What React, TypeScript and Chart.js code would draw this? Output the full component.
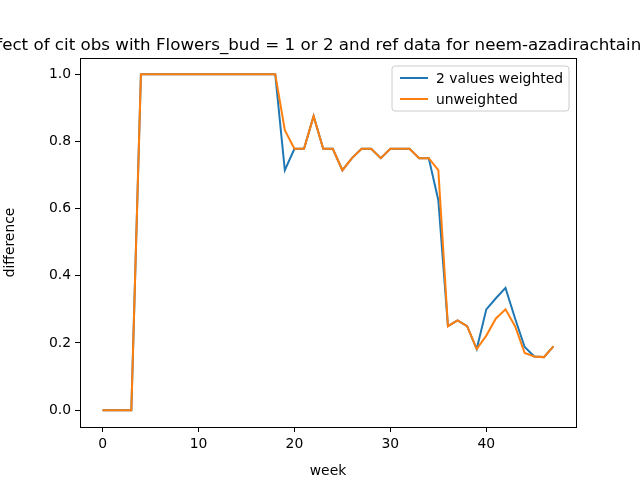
import React, { useRef, useEffect } from 'react';
import { Chart, registerables } from 'chart.js';

Chart.register(...registerables);

const weeks: number[] = Array.from({ length: 48 }, (_, i) => i);

const weighted: number[] = [
  0, 0, 0, 0, 1, 1, 1, 1, 1, 1, 1, 1, 1, 1, 1, 1, 1, 1, 1,
  0.714, 0.778, 0.778, 0.875, 0.778, 0.778, 0.714, 0.75, 0.778, 0.778, 0.75,
  0.778, 0.778, 0.778, 0.75, 0.75, 0.625, 0.25, 0.267, 0.25, 0.182,
  0.3, 0.333, 0.364, 0.273, 0.188, 0.16, 0.158, 0.19,
];

const unweighted: number[] = [
  0, 0, 0, 0, 1, 1, 1, 1, 1, 1, 1, 1, 1, 1, 1, 1, 1, 1, 1,
  0.833, 0.778, 0.778, 0.875, 0.778, 0.778, 0.714, 0.75, 0.778, 0.778, 0.75,
  0.778, 0.778, 0.778, 0.75, 0.75, 0.714, 0.25, 0.267, 0.25, 0.182,
  0.222, 0.273, 0.3, 0.25, 0.17, 0.16, 0.158, 0.19,
];

const xTicks = [0, 10, 20, 30, 40];
const yTicks = [0, 0.2, 0.4, 0.6, 0.8, 1.0];
const seriesNames = ['2 values weighted', 'unweighted'];
const colors = ['#1f77b4', '#ff7f0e'];
const title = 'Effect of cit obs with Flowers_bud = 1 or 2 and ref data for neem-azadirachtaindica';

const FONT = '"DejaVu Sans", sans-serif';

const decorations = {
  id: 'decorations',
  afterDraw(chart: Chart) {
    const { ctx, chartArea: a } = chart;
    ctx.save();
    // frame
    ctx.strokeStyle = '#000';
    ctx.lineWidth = 1;
    ctx.strokeRect(a.left + 0.5, a.top + 0.5, a.right - a.left, a.bottom - a.top);
    // title
    ctx.fillStyle = '#000';
    ctx.font = `16.7px ${FONT}`;
    ctx.textAlign = 'center';
    ctx.textBaseline = 'alphabetic';
    ctx.fillText(title, (a.left + a.right) / 2, a.top - 8);
    // legend
    const bx = a.right - 184, by = a.top + 8, bw = 177, bh = 45;
    ctx.fillStyle = 'rgba(255,255,255,0.8)';
    ctx.strokeStyle = '#cccccc';
    ctx.beginPath();
    ctx.roundRect(bx, by, bw, bh, 3);
    ctx.fill();
    ctx.stroke();
    ctx.font = `13.9px ${FONT}`;
    ctx.textAlign = 'left';
    ctx.textBaseline = 'middle';
    seriesNames.forEach((name, i) => {
      const y = by + 12 + i * 21;
      ctx.strokeStyle = colors[i];
      ctx.lineWidth = 2;
      ctx.beginPath();
      ctx.moveTo(bx + 8, y);
      ctx.lineTo(bx + 36, y);
      ctx.stroke();
      ctx.fillStyle = '#000';
      ctx.fillText(name, bx + 44, y + 1);
    });
    ctx.restore();
  },
};

const App: React.FC = () => {
  const canvasRef = useRef<HTMLCanvasElement>(null);

  useEffect(() => {
    document.body.style.margin = '0';
    if (!canvasRef.current) return;
    const chart = new Chart(canvasRef.current, {
      type: 'line',
      data: {
        labels: weeks,
        datasets: [weighted, unweighted].map((d, i) => ({
          label: seriesNames[i],
          data: d.map((v, j) => ({ x: weeks[j], y: v })),
          borderColor: colors[i],
          borderWidth: 2,
          pointRadius: 0,
          tension: 0,
          fill: false,
          order: 1 - i,
        })),
      },
      options: {
        responsive: false,
        animation: false,
        layout: { padding: { top: 58, right: 64, left: 0, bottom: 0 } },
        plugins: { legend: { display: false }, tooltip: { enabled: false } },
        scales: {
          x: {
            type: 'linear',
            min: -2.35,
            max: 49.35,
            afterBuildTicks: (s: any) => { s.ticks = xTicks.map((v) => ({ value: v })); },
            afterFit: (s: any) => { s.height = 53; },
            ticks: { color: '#000', font: { family: FONT, size: 13.9 }, padding: 4, maxRotation: 0 },
            grid: { drawOnChartArea: false, tickLength: 5, tickColor: '#000' },
            border: { color: '#000' },
            title: { display: true, text: 'week', color: '#000', font: { family: FONT, size: 13.9 }, padding: { top: 0, bottom: 0 } },
          },
          y: {
            min: -0.05,
            max: 1.048,
            afterBuildTicks: (s: any) => { s.ticks = yTicks.map((v) => ({ value: v })); },
            afterFit: (s: any) => { s.width = 80; },
            ticks: { color: '#000', font: { family: FONT, size: 13.9 }, padding: 4, callback: (v: any) => Number(v).toFixed(1) },
            grid: { drawOnChartArea: false, tickLength: 5, tickColor: '#000' },
            border: { color: '#000' },
            title: { display: true, text: 'difference', color: '#000', font: { family: FONT, size: 13.9 }, padding: 2 },
          },
        },
      },
      plugins: [decorations],
    });
    return () => chart.destroy();
  }, []);

  return (
    <div style={{ width: 640, height: 480, background: '#fff' }}>
      <canvas ref={canvasRef} width={640} height={480} style={{ display: 'block' }} />
    </div>
  );
};

export default App;
